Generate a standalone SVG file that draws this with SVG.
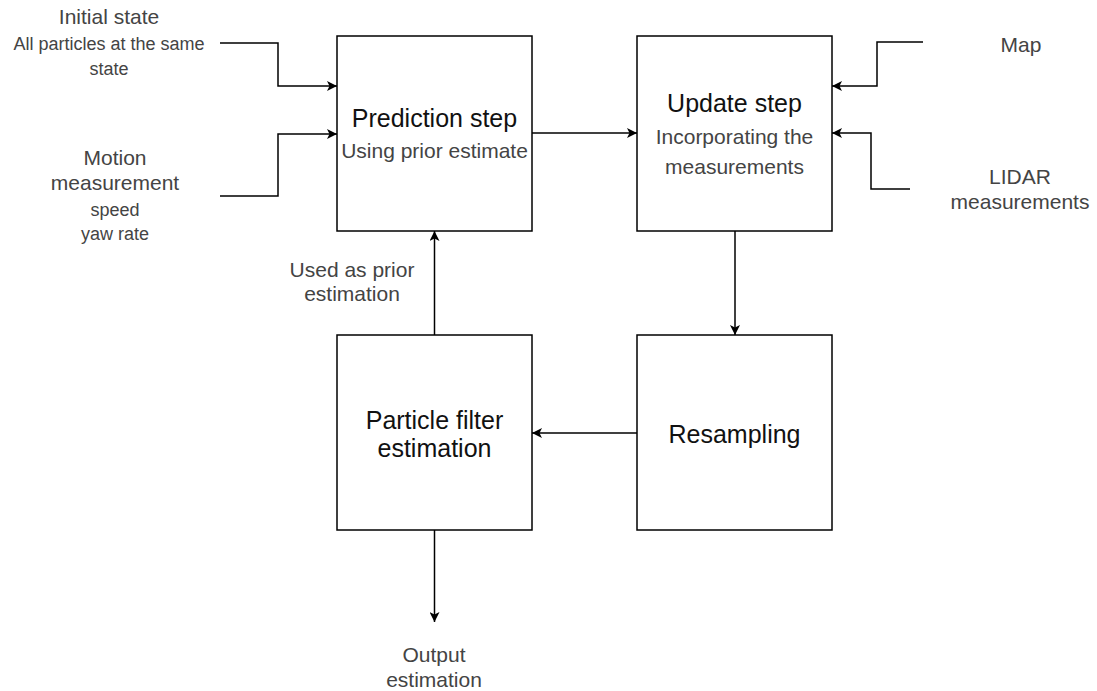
<svg xmlns="http://www.w3.org/2000/svg" width="1097" height="691" viewBox="0 0 1097 691">
<style>
text{font-family:"Liberation Sans",Arial,sans-serif;text-anchor:middle}
.box{fill:#fff;stroke:#000;stroke-width:1.5}
.t{font-size:25px;fill:#111}
.s{font-size:21px;fill:#444}
.l{font-size:21px;fill:#444}
.m{font-size:18px;fill:#444}
.c{fill:none;stroke:#000;stroke-width:1.5;marker-end:url(#arr)}
</style>
<defs>
<marker id="arr" viewBox="0 0 10 10" refX="10" refY="5" markerWidth="10" markerHeight="10" markerUnits="userSpaceOnUse" orient="auto">
<path d="M0,0 L10,5 L0,10 L2.5,5 Z" fill="#000"/>
</marker>
</defs>
<rect width="1097" height="691" fill="#fff"/>
<g id="connectors">
<polyline class="c" points="220,43 278,43 278,86 337,86"/>
<polyline class="c" points="220,196 278,196 278,134 337,134"/>
<polyline class="c" points="923,42 877,42 877,86 832,86"/>
<polyline class="c" points="910,189 871,189 871,133 832,133"/>
<line class="c" x1="532" y1="133" x2="637" y2="133"/>
<line class="c" x1="735" y1="231" x2="735" y2="335"/>
<line class="c" x1="637" y1="433" x2="532" y2="433"/>
<line class="c" x1="434.5" y1="335" x2="434.5" y2="231"/>
<line class="c" x1="434.5" y1="530" x2="434.5" y2="622"/>
</g>
<g id="prediction">
<rect class="box" x="337" y="36" width="195" height="195"/>
<text class="t" x="434.5" y="127">Prediction step</text>
<text class="s" x="434.5" y="158">Using prior estimate</text>
</g>
<g id="update">
<rect class="box" x="637" y="36" width="195" height="195"/>
<text class="t" x="734.5" y="112">Update step</text>
<text class="s" x="734.5" y="144">Incorporating the</text>
<text class="s" x="734.5" y="174">measurements</text>
</g>
<g id="particle">
<rect class="box" x="337" y="335" width="195" height="195"/>
<text class="t" x="434.5" y="429">Particle filter</text>
<text class="t" x="434.5" y="457">estimation</text>
</g>
<g id="resampling">
<rect class="box" x="637" y="335" width="195" height="195"/>
<text class="t" x="734.5" y="443">Resampling</text>
</g>
<g id="initial-state">
<text class="l" x="109" y="24">Initial state</text>
<text class="m" x="109" y="50">All particles at the same</text>
<text class="m" x="109" y="75">state</text>
</g>
<g id="motion">
<text class="l" x="115" y="165">Motion</text>
<text class="l" x="115" y="190">measurement</text>
<text class="m" x="115" y="216">speed</text>
<text class="m" x="115" y="240">yaw rate</text>
</g>
<g id="map">
<text class="l" x="1021" y="52">Map</text>
</g>
<g id="lidar">
<text class="l" x="1020" y="184">LIDAR</text>
<text class="l" x="1020" y="209">measurements</text>
</g>
<g id="prior-label">
<text class="l" x="352" y="277">Used as prior</text>
<text class="l" x="352" y="301">estimation</text>
</g>
<g id="output">
<text class="l" x="434" y="662">Output</text>
<text class="l" x="434" y="687">estimation</text>
</g>
</svg>
